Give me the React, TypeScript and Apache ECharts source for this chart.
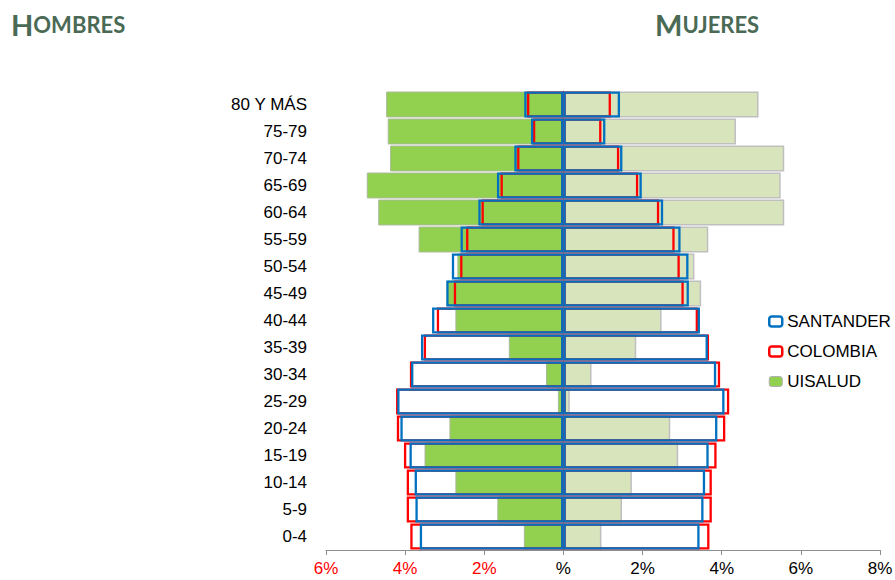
import React, { useEffect, useRef } from "react";
import * as echarts from "echarts";

const ageGroups = ["0-4", "5-9", "10-14", "15-19", "20-24", "25-29", "30-34", "35-39", "40-44", "45-49", "50-54", "55-59", "60-64", "65-69", "70-74", "75-79", "80 Y MÁS"];

// Men (shown to the left, as negative %)
const uisaludMen = [-1.0, -1.67, -2.73, -3.51, -2.88, -0.14, -0.44, -1.38, -2.73, -2.95, -2.68, -3.66, -4.68, -4.97, -4.38, -4.44, -4.48];
const santanderMen = [-3.63, -3.74, -3.76, -3.89, -4.12, -4.2, -3.85, -3.6, -3.32, -2.96, -2.82, -2.6, -2.15, -1.68, -1.24, -0.82, -0.99];
const colombiaMen = [-3.87, -3.96, -3.96, -4.03, -4.21, -4.23, -3.88, -3.53, -3.2, -2.77, -2.61, -2.46, -2.07, -1.59, -1.17, -0.77, -0.92];

// Women (shown to the right)
const uisaludWomen = [0.96, 1.48, 1.73, 2.9, 2.7, 0.16, 0.71, 1.84, 2.48, 3.48, 3.31, 3.66, 5.58, 5.49, 5.58, 4.36, 4.93];
const santanderWomen = [3.44, 3.54, 3.58, 3.67, 3.89, 4.07, 3.86, 3.65, 3.45, 3.17, 3.16, 2.96, 2.52, 1.98, 1.49, 1.06, 1.43];
const colombiaWomen = [3.69, 3.75, 3.75, 3.87, 4.09, 4.19, 3.96, 3.68, 3.4, 3.04, 2.94, 2.81, 2.42, 1.89, 1.41, 0.96, 1.2];

const legendNames = ["SANTANDER", "COLOMBIA", "UISALUD"];

const BLUE = "#0070c0";
const RED = "#ff0000";
const GREEN = "#92d050";
const LIGHT = "#d8e4bc";
const TITLE = "#4a6a55";

export default function App() {
  const ref = useRef<HTMLDivElement>(null);
  useEffect(() => {
    if (!ref.current) return;
    const chart = echarts.init(ref.current, undefined, { renderer: "svg" });
    const common = {
      type: "bar",
      barGap: "-100%",
      barCategoryGap: "4%",
      emphasis: { disabled: true },
    };
    const outline = (color: string) => ({
      color: "transparent",
      borderColor: color,
      borderWidth: 2.3,
    });
    const titleRich = {
      a: { fontFamily: "Lato", fontWeight: "bold", fontSize: 29, color: TITLE },
      b: { fontFamily: "Lato", fontWeight: "bold", fontSize: 22, color: TITLE },
    };
    chart.setOption({
      animation: false,
      backgroundColor: "#ffffff",
      textStyle: { fontFamily: "Liberation Sans, Arial, sans-serif" },
      title: [
        { left: 6, top: 5, text: "{a|H}{b|OMBRES}", textStyle: { rich: titleRich } },
        { left: 650, top: 5, text: "{a|M}{b|UJERES}", textStyle: { rich: titleRich } },
      ],
      legend: {
        orient: "vertical",
        left: 763,
        top: 308,
        itemWidth: 13,
        itemHeight: 10,
        itemGap: 13,
        textStyle: { fontSize: 17, color: "#000", fontFamily: "Liberation Sans, Arial, sans-serif" },
        data: [
          { name: legendNames[0], itemStyle: { color: "#ffffff", borderColor: BLUE, borderWidth: 2.5 } },
          { name: legendNames[1], itemStyle: { color: "#ffffff", borderColor: RED, borderWidth: 2.5 } },
          { name: legendNames[2], itemStyle: { color: GREEN, borderColor: "#b0b0b0", borderWidth: 1 } },
        ],
      },
      grid: { left: 326, right: 15, top: 91, bottom: 30, outerBoundsMode: "none", containLabel: false },
      xAxis: {
        type: "value",
        min: -6,
        max: 8,
        interval: 2,
        splitLine: { show: false },
        axisLine: { show: true, lineStyle: { color: "#8c8c8c" } },
        axisTick: { show: true, length: 5, lineStyle: { color: "#8c8c8c" } },
        axisLabel: {
          fontSize: 17,
          margin: 10,
          formatter: (v: number) => (v === 0 ? "%" : Math.abs(v) + "%"),
          color: (v: any) => (Number(v) < 0 ? RED : "#000000"),
        },
      },
      yAxis: {
        type: "category",
        data: ageGroups,
        axisLine: { onZero: true, lineStyle: { color: "#808080" } },
        axisTick: { show: true, inside: true, length: 4, alignWithLabel: true, lineStyle: { color: "#808080" } },
        axisLabel: { fontSize: 17, color: "#000000", margin: 19 },
      },
      series: [
        { ...common, name: "UISALUD", data: uisaludMen, itemStyle: { color: GREEN, borderColor: "#a9b99a", borderWidth: 1 } },
        { ...common, name: "UISALUD", data: uisaludWomen, itemStyle: { color: LIGHT, borderColor: "#bfbfbf", borderWidth: 1.5 } },
        { ...common, name: "COLOMBIA", data: colombiaMen, itemStyle: outline(RED) },
        { ...common, name: "COLOMBIA", data: colombiaWomen, itemStyle: outline(RED) },
        { ...common, name: "SANTANDER", data: santanderMen, itemStyle: outline(BLUE) },
        { ...common, name: "SANTANDER", data: santanderWomen, itemStyle: outline(BLUE) },
      ],
    });
    return () => chart.dispose();
  }, []);
  return (
    <div
      ref={ref}
      style={{ position: "fixed", left: 0, top: 0, width: 895, height: 580 }}
    />
  );
}
